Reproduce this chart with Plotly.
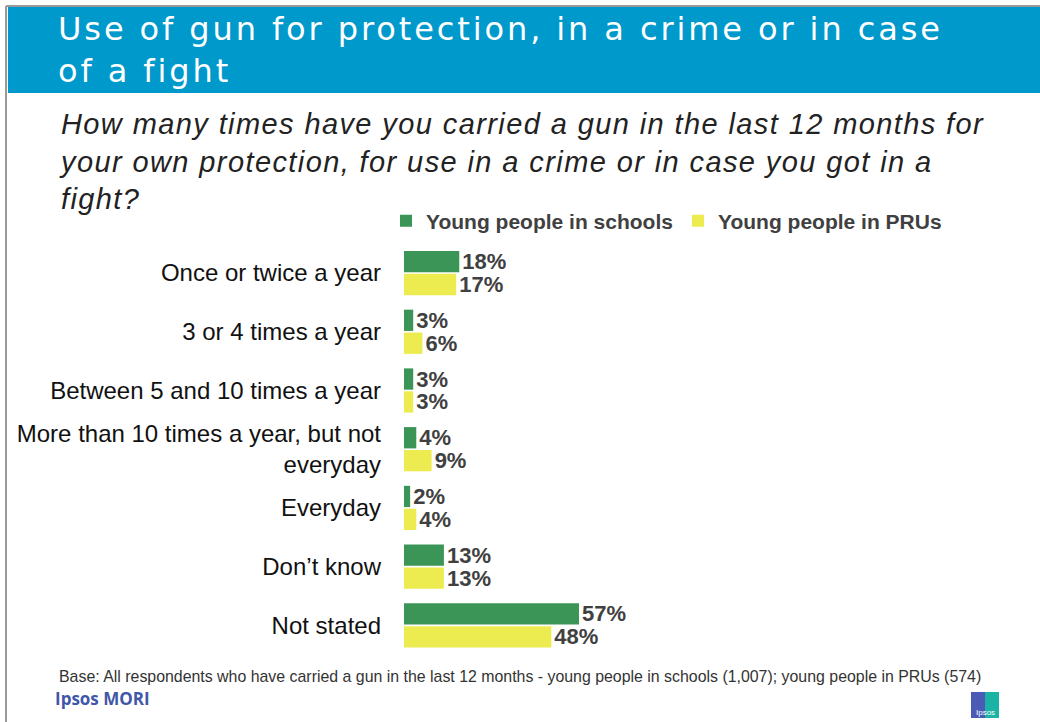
import plotly.graph_objects as go

W, H = 1040, 722

categories = [
    "Once or twice a year",
    "3 or 4 times a year",
    "Between 5 and 10 times a year",
    "More than 10 times a year, but not<br>everyday",
    "Everyday",
    "Don\u2019t know",
    "Not stated",
]
schools = [18, 3, 3, 4, 2, 13, 57]
prus = [17, 6, 3, 9, 4, 13, 48]

series_names = ["Young people in schools", "Young people in PRUs"]
series_colors = ["#3A9556", "#ECEC50"]

title = "Use of gun for protection, in a crime or in case<br>of a fight"
question = ("How many times have you carried a gun in the last 12 months for<br>"
            "your own protection, for use in a crime or in case you got in a<br>"
            "fight?")
base_note = ("Base: All respondents who have carried a gun in the last 12 months - "
             "young people in schools (1,007); young people in PRUs (574)")

TEXT_DARK = "#404040"


def px_x(v):
    return v / W


def px_y(v):
    return 1 - v / H


def spaced(text, px):
    return f'<span style="letter-spacing:{px}px">{text}</span>'


fig = go.Figure()
for name, vals, col in zip(series_names, [schools, prus], series_colors):
    fig.add_trace(go.Bar(
        y=categories, x=vals, name=f"<b>{name}</b>", orientation="h",
        marker=dict(color=col, line=dict(width=0)),
        text=[f"{v}%" for v in vals], textposition="outside",
        constraintext="none",
        textfont=dict(family="Liberation Sans, Arial", size=22, color=TEXT_DARK),
        texttemplate="<b>%{text}</b>",
        cliponaxis=False,
    ))

fig.update_layout(
    width=W, height=H,
    margin=dict(l=0, r=0, t=0, b=0),
    paper_bgcolor="white", plot_bgcolor="rgba(0,0,0,0)",
    barmode="group", bargap=0.22, bargroupgap=0.07,
    showlegend=True,
    legend=dict(
        orientation="h", x=px_x(386), y=px_y(221), xanchor="left", yanchor="middle",
        font=dict(family="Liberation Sans, Arial", size=21, color=TEXT_DARK),
        itemwidth=30, traceorder="normal", bgcolor="rgba(0,0,0,0)",
    ),
    xaxis=dict(domain=[px_x(404), px_x(711)], range=[0, 100], visible=False,
               fixedrange=True),
    yaxis=dict(domain=[px_y(654.7), px_y(243.7)], autorange="reversed",
               showline=False, showgrid=False, zeroline=False, ticks="",
               ticklabelstandoff=22,
               tickfont=dict(family="Liberation Sans, Arial", size=24, color="#111111")),
)

shapes = [
    # header band
    dict(type="rect", xref="paper", yref="paper", x0=px_x(8), x1=1,
         y0=px_y(93), y1=px_y(7), fillcolor="#0099CC", line=dict(width=0), layer="below"),
    # frame lines
    dict(type="line", xref="paper", yref="paper", x0=px_x(6), x1=1,
         y0=px_y(6), y1=px_y(6), line=dict(color="#999999", width=2)),
    dict(type="line", xref="paper", yref="paper", x0=px_x(6), x1=px_x(6),
         y0=0, y1=px_y(6), line=dict(color="#999999", width=2)),
    # small Ipsos badge
    dict(type="rect", xref="paper", yref="paper", x0=px_x(971), x1=px_x(985),
         y0=px_y(718), y1=px_y(692), fillcolor="#4B5BB5", line=dict(width=0)),
    dict(type="rect", xref="paper", yref="paper", x0=px_x(985), x1=px_x(999),
         y0=px_y(718), y1=px_y(692), fillcolor="#1BB3A6", line=dict(width=0)),
]

annotations = [
    dict(text="<br>".join(spaced(line, 2.9) for line in title.split("<br>")),
         xref="paper", yref="paper", x=px_x(56), y=px_y(50),
         xanchor="left", yanchor="middle", align="left", showarrow=False,
         font=dict(family="DejaVu Sans, Verdana", size=32, color="white")),
    dict(text="<br>".join("<i>" + spaced(line, 1.4) + "</i>" for line in question.split("<br>")),
         xref="paper", yref="paper", x=px_x(57), y=px_y(161),
         xanchor="left", yanchor="middle", align="left", showarrow=False,
         font=dict(family="Liberation Sans, Arial", size=29, color="#222222")),
    dict(text=base_note, xref="paper", yref="paper", x=px_x(57), y=px_y(676),
         xanchor="left", yanchor="middle", align="left", showarrow=False,
         font=dict(family="Liberation Sans, Arial", size=15.9, color="#333333")),
    dict(text="<b>Ipsos MORI</b>", xref="paper", yref="paper", x=px_x(53), y=px_y(698),
         xanchor="left", yanchor="middle", showarrow=False,
         font=dict(family="Open Sans, Liberation Sans", size=17, color="#3F57A8")),
    dict(text="Ipsos", xref="paper", yref="paper", x=px_x(985), y=px_y(712),
         xanchor="center", yanchor="middle", showarrow=False,
         font=dict(family="Liberation Sans, Arial", size=8, color="white")),
]

fig.update_layout(shapes=shapes, annotations=annotations)

fig.write_html("out.html")
